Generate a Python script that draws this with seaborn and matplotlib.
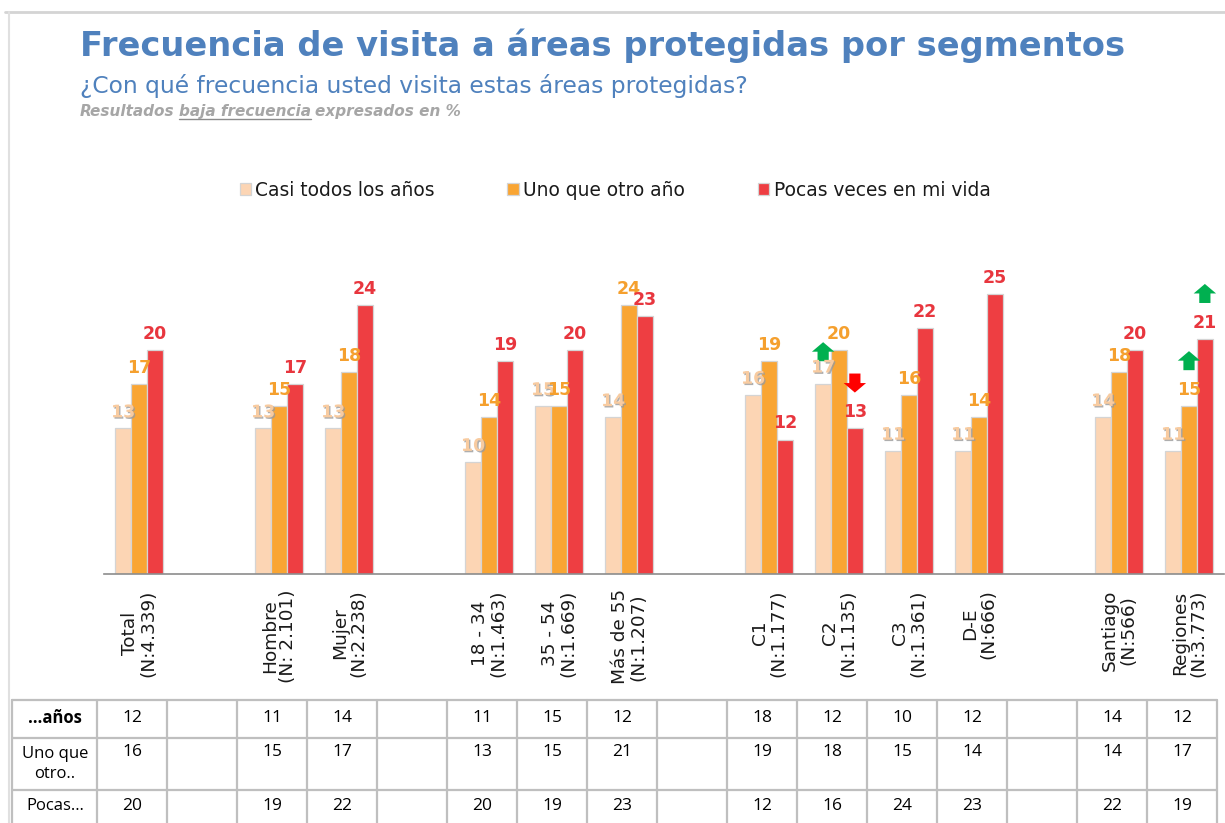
import matplotlib
matplotlib.use("Agg")
import numpy as np
import pandas as pd
import matplotlib.pyplot as plt
import matplotlib.patheffects as pe
from matplotlib.patches import FancyArrow
import seaborn as sns

# datos del grafico
segmentos = ["Total\n(N:4.339)", "Hombre\n(N: 2.101)", "Mujer\n(N:2.238)",
             "18 - 34\n(N:1.463)", "35 - 54\n(N:1.669)", "Más de 55\n(N:1.207)",
             "C1\n(N:1.177)", "C2\n(N:1.135)", "C3\n(N:1.361)", "D-E\n(N:666)",
             "Santiago\n(N:566)", "Regiones\n(N:3.773)"]
# orden con columnas vacias entre grupos
orden = [segmentos[0], " ", segmentos[1], segmentos[2], "  ",
         segmentos[3], segmentos[4], segmentos[5], "   ",
         segmentos[6], segmentos[7], segmentos[8], segmentos[9], "    ",
         segmentos[10], segmentos[11]]

series = ["Casi todos los años", "Uno que otro año", "Pocas veces en mi vida"]
casi_todos = [13, 13, 13, 10, 15, 14, 16, 17, 11, 11, 14, 11]
uno_que_otro = [17, 15, 18, 14, 15, 24, 19, 20, 16, 14, 18, 15]
pocas_veces = [20, 17, 24, 19, 20, 23, 12, 13, 22, 25, 20, 21]

# flechas de diferencia significativa: (segmento, serie, sentido)
flechas = [("C2\n(N:1.135)", "Casi todos los años", "up"),
           ("C2\n(N:1.135)", "Pocas veces en mi vida", "down"),
           ("Regiones\n(N:3.773)", "Uno que otro año", "up"),
           ("Regiones\n(N:3.773)", "Pocas veces en mi vida", "up")]

# tabla inferior (columnas vacias = None)
tabla_etiquetas = ["…años", "Uno que\notro..", "Pocas…"]
tabla_anos = [12, None, 11, 14, None, 11, 15, 12, None, 18, 12, 10, 12, None, 14, 12]
tabla_uno = [16, None, 15, 17, None, 13, 15, 21, None, 19, 18, 15, 14, None, 14, 17]
tabla_pocas = [20, None, 19, 22, None, 20, 19, 23, None, 12, 16, 24, 23, None, 22, 19]

colores = {"Casi todos los años": "#FCD5B4",
           "Uno que otro año": "#F9A533",
           "Pocas veces en mi vida": "#EE3E42"}
color_etiqueta = {"Casi todos los años": "#F8CBA0",
                  "Uno que otro año": "#F5A02E",
                  "Pocas veces en mi vida": "#E8363E"}

df = pd.DataFrame({
    "segmento": segmentos * 3,
    "serie": [series[0]] * 12 + [series[1]] * 12 + [series[2]] * 12,
    "valor": casi_todos + uno_que_otro + pocas_veces,
})

sns.set_style("white")
plt.rcParams["font.family"] = ["DejaVu Sans"]

fig = plt.figure(figsize=(12.25, 8.23), dpi=100)
ax = fig.add_axes([104 / 1225, 1 - 574 / 823, 1120 / 1225, 424 / 823])

sns.barplot(data=df, x="segmento", y="valor", hue="serie", order=orden,
            hue_order=series, palette=colores, saturation=1, width=0.68,
            edgecolor="#D4D4D4", linewidth=0.9, ax=ax)

handles, labels = ax.get_legend_handles_labels()
ax.get_legend().remove()

ax.set_xlim(-0.5, len(orden) - 0.5)
ax.set_ylim(0, 37.86)
ax.set_xlabel("")
ax.set_ylabel("")
ax.set_yticks([])
for s in ["top", "right", "left"]:
    ax.spines[s].set_visible(False)
ax.spines["bottom"].set_color("#8C8C8C")
ax.spines["bottom"].set_linewidth(1.2)
ax.set_xticks(np.arange(-0.5, len(orden), 1), minor=True)
ax.tick_params(axis="x", which="minor", length=7, color="#8C8C8C", width=1.2, direction="out")
ax.tick_params(axis="x", which="major", length=0, pad=11)
for t in ax.get_xticklabels():
    t.set_rotation(90)
    t.set_fontsize(13.3)
    t.set_color("#1A1A1A")
    t.set_va("top")
    t.set_ha("center")
    t.set_multialignment("center")
    t.set_linespacing(1.05)

# etiquetas de valores
barras = {}
for cont, serie in zip(ax.containers, series):
    for bar in cont:
        h = bar.get_height()
        if np.isnan(h):
            continue
        cx = bar.get_x() + bar.get_width() / 2
        barras[(int(round(cx)), serie)] = bar
        efectos = [pe.withSimplePatchShadow(offset=(1, -1), shadow_rgbFace="#9A9A9A", alpha=0.8)] \
            if serie == series[0] else []
        ax.annotate(f"{h:.0f}", (cx, h), xytext=(0, 8), textcoords="offset points",
                    ha="center", va="baseline", fontsize=12.5, fontweight="bold",
                    color=color_etiqueta[serie], path_effects=efectos)

# flechas
for seg, serie, sentido in flechas:
    bar = barras[(orden.index(seg), serie)]
    cx = bar.get_x() + bar.get_width() / 2
    h = bar.get_height()
    if sentido == "up":
        base = h + (2.0 if serie == series[0] else 3.2)
        a = FancyArrow(cx, base, 0, 1.7, width=0.16, head_width=0.32, head_length=0.85,
                       length_includes_head=True, color="#00B050", lw=0)
    else:
        a = FancyArrow(cx, h + 4.9, 0, -1.7, width=0.16, head_width=0.32, head_length=0.85,
                       length_includes_head=True, color="#FF0000", lw=0)
    ax.add_patch(a)

fig.legend(handles, labels, loc="center", bbox_to_anchor=(0.502, 1 - 190 / 823), ncol=3,
           frameon=False, fontsize=13.4, handlelength=0.6, handleheight=0.6,
           handletextpad=0.25, columnspacing=3.9, labelcolor="#1A1A1A")

# capa en pixeles para titulos, marco y tabla
ov = fig.add_axes([0, 0, 1, 1])
ov.set_xlim(0, 1225)
ov.set_ylim(823, 0)
ov.axis("off")
ov.patch.set_visible(False)

azul = "#4F81BD"
ov.text(80, 46, "Frecuencia de visita a áreas protegidas por segmentos", fontsize=24.2,
        fontweight="bold", color=azul, va="center", ha="left")
ov.text(80, 86, "¿Con qué frecuencia usted visita estas áreas protegidas?", fontsize=16.8,
        color=azul, va="center", ha="left")

renderer = fig.canvas.get_renderer()
x = 80
for parte, subr in [("Resultados", False), ("baja frecuencia", True), ("expresados en %", False)]:
    t = ov.text(x, 111, parte, fontsize=11, fontweight="bold", fontstyle="italic",
                color="#A6A6A6", va="center", ha="left")
    bb = t.get_window_extent(renderer)
    if subr:
        ov.plot([bb.x0, bb.x1], [119, 119], color="#8C8C8C", lw=1)
    x = bb.x1 + 4

# marco
ov.plot([5, 1225], [12, 12], color="#D4D4D4", lw=2)
ov.plot([9, 9], [12, 823], color="#E0E0E0", lw=1.5)

# tabla
gris = "#BFBFBF"
col0, ancho = 97, 70
filas_y = [700, 738, 790, 823]
x_fin = col0 + ancho * len(orden)
for y in filas_y[:3]:
    ov.plot([12, x_fin], [y, y], color=gris, lw=1.6)
for xv in [12] + [col0 + ancho * k for k in range(len(orden) + 1)]:
    ov.plot([xv, xv], [700, 823], color=gris, lw=1.6)

ov.text(55, 718, tabla_etiquetas[0], fontsize=12, fontweight="bold", ha="center", va="center",
        family="Open Sans", color="black")
ov.text(55, 764, tabla_etiquetas[1], fontsize=12, ha="center", va="center",
        family="Open Sans", linespacing=1.25, color="black")
ov.text(55, 806, tabla_etiquetas[2], fontsize=12, ha="center", va="center", family="Open Sans",
        color="black")
for fila, y in zip([tabla_anos, tabla_uno, tabla_pocas], [718, 752, 806]):
    for k, v in enumerate(fila):
        if v is None:
            continue
        ov.text(col0 + ancho * k + ancho / 2, y, str(v), fontsize=12.5, ha="center", va="center",
                family="Open Sans", color="black")

fig.savefig("out.png", dpi=100)
